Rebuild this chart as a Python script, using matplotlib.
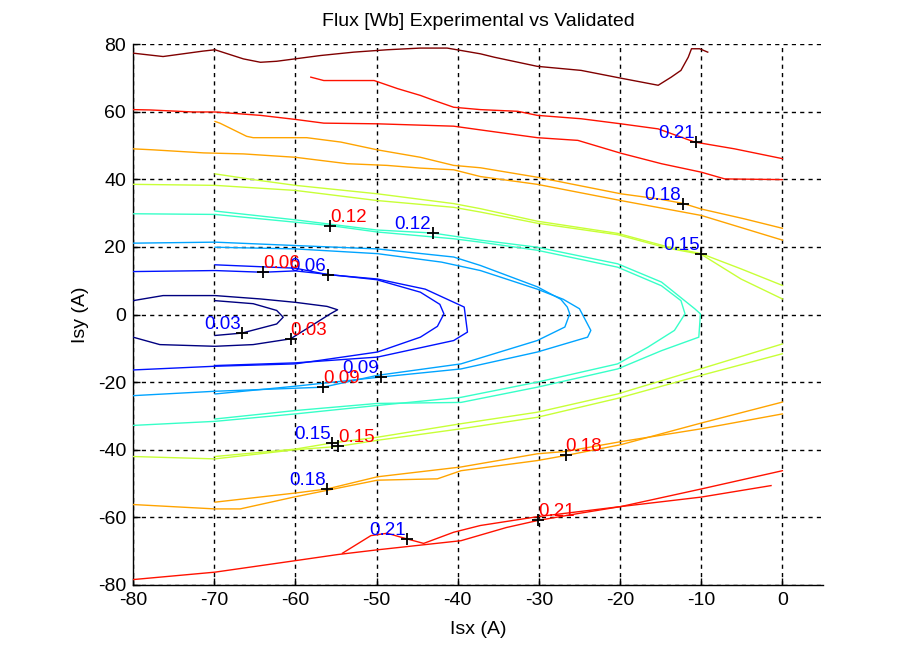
import numpy as np
import matplotlib
matplotlib.use("Agg")
import matplotlib.pyplot as plt

# contour levels of the flux (Wb)
levels = [0.03, 0.06, 0.09, 0.12, 0.15, 0.18, 0.21, 0.24]

# experimental contour lines (Isx, Isy)
exp_003 = [(-69.9, 4.1), (-65.2, 3.2), (-62.3, 1.2), (-61.5, -0.8), (-62.3, -2.8),
           (-66.6, -5.5), (-69.9, -6.2)]
exp_006 = [(-69.9, 14.7), (-60, 13.7), (-56, 11.8), (-49.9, 10.5), (-44, 7.5),
           (-39.2, 2.2), (-38.8, -5.2), (-40.5, -7.7), (-49.9, -12.6), (-60, -14.3),
           (-69.9, -15.1)]
exp_009 = [(-69.9, 19.9), (-60, 19.4), (-49.9, 18.0), (-42, 15.5), (-37.2, 13.0),
           (-30.2, 7.5), (-27, 4.5), (-25, 1.7), (-23.6, -4.7), (-24, -6.7),
           (-30.2, -11.1), (-39.6, -16.1), (-49.5, -18.5), (-60, -21.2), (-69.9, -23.5)]
exp_012 = [(-69.9, 30.6), (-60, 28.0), (-50, 25.0), (-43.1, 24.1), (-37.2, 22.0),
           (-30.2, 19.9), (-20.3, 15.0), (-14.9, 9.6), (-10.8, 1.7), (-10.1, 0.2),
           (-10.3, -6.7), (-14.9, -10.7), (-20.3, -16.1), (-30.2, -21.5), (-39.6, -26.0),
           (-49.9, -26.3), (-60, -28.4), (-69.9, -30.9)]
exp_015_top = [(-69.9, 41.6), (-65.2, 39.9), (-60, 38.2), (-49.9, 35.7), (-40.5, 32.8),
               (-37.2, 31.3), (-30.2, 27.6), (-20.3, 24.0), (-14.1, 20.0), (-10, 18.0),
               (-5.1, 13.5), (0, 8.6)]
exp_015_bot = [(-69.9, -42.0), (-60, -39.8), (-55.5, -38.0), (-49.9, -36.3), (-39.6, -32.3),
               (-30.2, -28.9), (-20.3, -23.5), (-10.8, -16.6), (0, -8.7)]
exp_018_top = [(-69.9, 57.1), (-69.3, 56.6), (-66, 52.7), (-65.2, 52.3), (-58.6, 52.3),
               (-54.4, 51.0), (-49.9, 48.7), (-44.6, 46.5), (-40.5, 44.1), (-37.2, 43.4),
               (-30.2, 40.6), (-19.9, 35.7), (-15.3, 34.2), (-12.3, 32.9), (-10, 31.2),
               (-4.7, 28.3), (0, 25.5)]
exp_018_bot = [(-69.9, -55.5), (-60, -52.8), (-56.1, -51.6), (-49.9, -48.0), (-39.6, -45.1),
               (-30.2, -41.2), (-26.7, -40.5), (-19.9, -37.6), (-10, -33.8), (0, -29.4)]
exp_021_top = [(-58.1, 70.2), (-56.5, 69.2), (-50.3, 69.2), (-47.4, 66.8), (-44.6, 64.8),
               (-42.9, 63.3), (-40.5, 61.3), (-37.2, 60.6), (-32.6, 60.1), (-30.2, 58.9),
               (-24.8, 57.9), (-19.9, 56.4), (-15.3, 54.9), (-10.8, 51.0), (-5.9, 49.0),
               (0, 46.1)]
exp_021_bot = [(-54.2, -70.6), (-50.7, -65.4), (-48.7, -64.7), (-46.2, -66.4), (-44.2, -67.7),
               (-40.5, -64.4), (-37.2, -62.4), (-30.2, -59.8), (-19.9, -56.8), (-10, -54.0),
               (-1.4, -50.6)]

# validated (model) contour lines
val_003 = [(-80, 4.1), (-76.3, 5.6), (-69.9, 5.6), (-64.3, 4.6), (-60, 3.6), (-56.1, 2.4),
           (-54.8, 1.4), (-55.7, 0.2), (-58.6, -4.2), (-60.6, -7.2), (-65.2, -8.9),
           (-69.9, -9.4), (-76.7, -8.9), (-80, -6.7)]
val_006 = [(-80, 12.7), (-69.9, 13.0), (-64, 12.5), (-60, 12.9), (-50, 10.3), (-44.6, 6.6),
           (-42.2, 3.0), (-41.7, 0.2), (-42.5, -3.5), (-44.6, -6.7), (-49.9, -11.1),
           (-60, -14.6), (-69.9, -15.3), (-80, -16.4)]
val_009 = [(-80, 21.1), (-69.9, 21.4), (-60, 20.4), (-49.9, 19.4), (-40.5, 17.0),
           (-37.2, 14.5), (-30.2, 8.2), (-27.3, 4.5), (-26.5, 2.2), (-26.2, 0.2),
           (-26.8, -3.7), (-30.2, -7.7), (-39.6, -14.6), (-49.9, -18.0), (-56.6, -21.5),
           (-60, -21.8), (-69.9, -22.7), (-80, -24.0)]
val_012 = [(-80, 29.8), (-69.9, 29.6), (-60, 27.3), (-55.7, 26.3), (-49.9, 24.4),
           (-40.5, 22.4), (-37.2, 21.4), (-30.2, 19.0), (-20.3, 14.0), (-14.9, 8.5),
           (-12.5, 4.1), (-12.0, 0.2), (-13.3, -4.7), (-16.6, -9.7), (-20.3, -14.6),
           (-30.2, -20.0), (-39.6, -24.5), (-49.9, -26.9), (-60, -29.4), (-69.9, -31.6),
           (-80, -32.8)]
val_015_top = [(-80, 38.5), (-69.9, 38.2), (-60, 36.7), (-49.9, 33.7), (-40.5, 31.7),
               (-37.2, 30.3), (-30.2, 27.0), (-20.3, 23.6), (-14.1, 19.6), (-10, 17.8),
               (-5.1, 10.5), (0, 4.6)]
val_015_bot = [(-80, -42.0), (-69.9, -42.7), (-60, -40.0), (-54.7, -39.0), (-49.9, -37.2),
               (-39.6, -33.8), (-30.2, -30.4), (-20.3, -24.8), (-10.8, -18.5), (0, -11.6)]
val_018_top = [(-80, 49.0), (-77.5, 48.7), (-71.3, 47.8), (-66.4, 47.5), (-60, 46.5),
               (-53.6, 44.6), (-48.7, 44.1), (-44.6, 43.3), (-40.5, 42.8), (-37.2, 40.8),
               (-30.2, 38.5), (-19.9, 33.7), (-10, 29.3), (0, 22.0)]
val_018_bot = [(-80, -56.2), (-69.9, -57.5), (-66.8, -57.5), (-60, -53.9), (-49.9, -49.0),
               (-42.5, -48.6), (-39.6, -46.2), (-30.2, -43.2), (-26.7, -41.7), (-19.9, -38.5),
               (-10, -32.1), (0, -25.9)]
val_021_top = [(-80, 60.6), (-77.9, 60.5), (-72.6, 59.9), (-69.9, 59.9), (-64.3, 58.9),
               (-60, 57.7), (-56.5, 56.6), (-49.9, 56.4), (-40.5, 55.7), (-37.2, 54.6),
               (-30.2, 52.3), (-25.2, 51.5), (-19.9, 47.7), (-14.9, 44.6), (-10, 42.1),
               (-7.1, 40.1), (0, 39.9)]
val_021_bot = [(-80, -78.4), (-69.9, -76.2), (-60, -72.8), (-54.8, -71.0), (-49.9, -69.6),
               (-39.6, -66.9), (-34, -63.0), (-30.1, -60.9), (-25, -58.8), (-19.9, -56.8),
               (-10, -51.6), (0, -46.2)]
val_024 = [(-80, 77.3), (-76.3, 76.3), (-71.4, 77.9), (-69.9, 78.3), (-66.4, 75.6),
           (-64.3, 74.6), (-62.3, 74.9), (-56.9, 76.6), (-52.8, 77.6), (-48.7, 78.3),
           (-44.6, 78.8), (-41.3, 78.8), (-37.2, 77.1), (-35.5, 76.1), (-30.2, 73.4),
           (-24.8, 72.2), (-19.9, 69.9), (-15.3, 67.8), (-13.7, 70.2), (-12.5, 72.2),
           (-11.6, 76.1), (-11.2, 78.6), (-10.2, 78.6), (-9.2, 77.6)]

# clabel points: (level, Isx, Isy)
exp_labels = [(0.21, -10.6, 50.9), (0.18, -12.3, 32.8), (0.15, -10.0, 18.0),
              (0.12, -43.1, 24.0), (0.06, -56.0, 11.8), (0.03, -66.6, -5.5),
              (0.09, -49.5, -18.6), (0.15, -55.5, -38.0), (0.18, -56.1, -51.6),
              (0.21, -46.2, -66.4)]
val_labels = [(0.12, -55.7, 26.3), (0.06, -64.0, 12.5), (0.03, -60.6, -7.2),
              (0.09, -56.6, -21.5), (0.15, -54.7, -39.0), (0.18, -26.7, -41.7),
              (0.21, -30.1, -60.9)]

contours = [
    (0.03, exp_003), (0.06, exp_006), (0.09, exp_009), (0.12, exp_012),
    (0.15, exp_015_top), (0.15, exp_015_bot), (0.18, exp_018_top), (0.18, exp_018_bot),
    (0.21, exp_021_top), (0.21, exp_021_bot),
    (0.03, val_003), (0.06, val_006), (0.09, val_009), (0.12, val_012),
    (0.15, val_015_top), (0.15, val_015_bot), (0.18, val_018_top), (0.18, val_018_bot),
    (0.21, val_021_top), (0.21, val_021_bot), (0.24, val_024),
]


def matlab_jet(t):
    # same shape as MATLAB's jet (matplotlib's one is slightly different)
    r = np.clip(1.5 - abs(4 * t - 3), 0, 1)
    g = np.clip(1.5 - abs(4 * t - 2), 0, 1)
    b = np.clip(1.5 - abs(4 * t - 1), 0, 1)
    return (r, g, b)


plt.rcParams['font.family'] = ['Liberation Sans', 'DejaVu Sans']
plt.rcParams['axes.unicode_minus'] = False

fig = plt.figure(figsize=(8.97, 6.59), dpi=100)
ax = fig.add_axes([0.1483, 0.1123, 0.7692, 0.8209])

lo, hi = min(levels), max(levels)
for lev, pts in contours:
    pts = np.array(pts)
    ax.plot(pts[:, 0], pts[:, 1], color=matlab_jet((lev - lo) / (hi - lo)), lw=1.0, zorder=3)

# labels: experimental in blue (left of mark), validated in red (right of mark)
for labels, col, ha, dx in [(exp_labels, 'blue', 'right', -1), (val_labels, 'red', 'left', 0)]:
    for lev, x, y in labels:
        ax.plot(x, y, '+', color='black', ms=8, mew=1.3, zorder=5)
        ax.annotate('%.2f' % lev, (x, y), xytext=(dx, 0), textcoords='offset points',
                    ha=ha, va='bottom', color=col, fontsize=13.5, zorder=6)

ax.set_xlim(-80, 5)
ax.set_ylim(-80, 80)
ax.set_xticks(np.arange(-80, 1, 10))
ax.set_yticks(np.arange(-80, 81, 20))
ax.grid(True, color='black', linestyle=(0, (3, 3)), linewidth=1.0)
ax.set_axisbelow(True)
for side in ['top', 'right']:
    ax.spines[side].set_visible(False)
for side in ['left', 'bottom']:
    ax.spines[side].set_linewidth(1.0)
ax.tick_params(direction='in', length=5, width=1.0, labelsize=14, pad=5)

ax.set_title('Flux [Wb] Experimental vs Validated', fontsize=14, pad=13)
ax.set_xlabel('Isx (A)', fontsize=14, labelpad=9)
ax.set_ylabel('Isy (A)', fontsize=14, labelpad=6)

fig.savefig('out.png', dpi=100)
